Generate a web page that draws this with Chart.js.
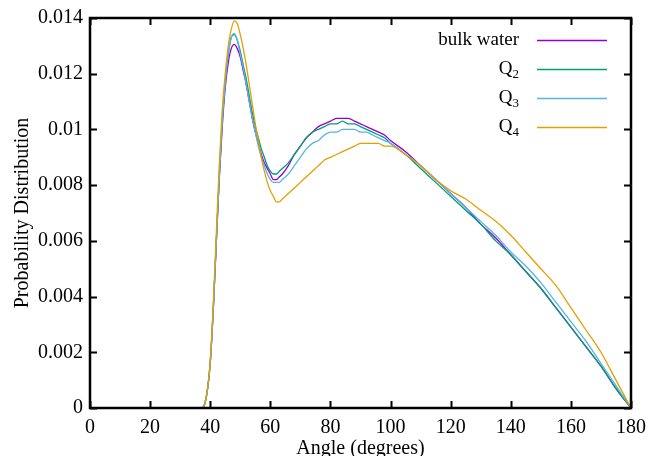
<!DOCTYPE html>
<html>
<head>
<meta charset="utf-8">
<script src="https://cdn.jsdelivr.net/npm/chart.js@4.4.1/dist/chart.umd.min.js"></script>
<style>
html, body { margin: 0; padding: 0; background: #fff; }
</style>
</head>
<body>
<canvas id="myChart" width="649" height="456"></canvas>
<script>
const angles = [36, 37, 38, 39, 40, 41, 42, 43, 44, 45, 46, 47, 48, 49, 50, 51, 52, 53, 54, 55, 56, 57, 58, 59, 60, 61, 62, 63, 64,
  66, 68, 70, 72, 74, 76, 78, 80, 82, 84, 86, 88, 90, 92, 94, 96, 98, 100,
  105, 110, 115, 120, 125, 130, 135, 140, 145, 150, 155, 160, 165, 170, 175, 180];

const bulkWater = [0, 0, 0.0001, 0.0006, 0.0016, 0.0035, 0.0059, 0.0082, 0.0101, 0.0115, 0.0124, 0.0129, 0.01305, 0.0129, 0.0126, 0.0121, 0.0116, 0.0110, 0.0104, 0.0099, 0.0095, 0.0091, 0.0088, 0.0086, 0.0084, 0.0082, 0.0082, 0.0083, 0.0084,
  0.0087, 0.0091, 0.0094, 0.0097, 0.0099, 0.0101, 0.0102, 0.0103, 0.0104, 0.0104, 0.0104, 0.0103, 0.0102, 0.0101, 0.0100, 0.0099, 0.0098, 0.0096,
  0.0092, 0.0087, 0.0082, 0.0077, 0.0072, 0.0066, 0.0061, 0.0055, 0.0049, 0.0043, 0.0036, 0.0029, 0.0022, 0.0015, 0.0007, 0];

const q2 = [0, 0, 0.0001, 0.0006, 0.0016, 0.0035, 0.0059, 0.0083, 0.0103, 0.0117, 0.0127, 0.0133, 0.0134, 0.0132, 0.0128, 0.0123, 0.0118, 0.0112, 0.0106, 0.0101, 0.0097, 0.0093, 0.0090, 0.0087, 0.0085, 0.0084, 0.0084, 0.0085, 0.0086,
  0.0088, 0.0091, 0.0094, 0.0097, 0.0099, 0.0100, 0.0101, 0.0102, 0.0102, 0.0103, 0.0102, 0.0102, 0.0101, 0.0100, 0.0099, 0.0098, 0.0097, 0.0095,
  0.0091, 0.0086, 0.0081, 0.0076, 0.0071, 0.0066, 0.0060, 0.0055, 0.0049, 0.0043, 0.0036, 0.0029, 0.0022, 0.0015, 0.0007, 0];

const q3 = [0, 0, 0.0001, 0.0006, 0.0016, 0.0035, 0.0059, 0.0083, 0.0103, 0.0117, 0.0127, 0.0133, 0.01345, 0.0132, 0.0127, 0.0122, 0.0116, 0.0110, 0.0104, 0.0099, 0.0094, 0.0090, 0.0087, 0.0084, 0.0082, 0.0081, 0.0081, 0.0081, 0.0082,
  0.0084, 0.0087, 0.0090, 0.0093, 0.0095, 0.0096, 0.0098, 0.0099, 0.0099, 0.0100, 0.0100, 0.0100, 0.0099, 0.0099, 0.0098, 0.0097, 0.0096, 0.0095,
  0.0091, 0.0087, 0.0082, 0.0077, 0.0072, 0.0067, 0.0062, 0.0056, 0.0051, 0.0045, 0.0038, 0.0031, 0.0024, 0.0016, 0.0008, 0];

const q4 = [0, 0, 0.0001, 0.0006, 0.0017, 0.0037, 0.0062, 0.0087, 0.0107, 0.0120, 0.0130, 0.0136, 0.0139, 0.0138, 0.0134, 0.0129, 0.0123, 0.0116, 0.0109, 0.0102, 0.0096, 0.0090, 0.0085, 0.0081, 0.0078, 0.0076, 0.0074, 0.0074, 0.0075,
  0.0077, 0.0079, 0.0081, 0.0083, 0.0085, 0.0087, 0.0089, 0.0090, 0.0091, 0.0092, 0.0093, 0.0094, 0.0095, 0.0095, 0.0095, 0.0095, 0.0094, 0.0094,
  0.0091, 0.0087, 0.0082, 0.0078, 0.0075, 0.0071, 0.0067, 0.0062, 0.0056, 0.0050, 0.0044, 0.0036, 0.0028, 0.0020, 0.0010, 0];

const seriesNames = ['bulk water', 'Q_2', 'Q_3', 'Q_4'];
const seriesColors = ['#9400d3', '#009e73', '#56b4e9', '#e69f00'];
const xTicks = [0, 20, 40, 60, 80, 100, 120, 140, 160, 180];
const yTicks = [0, 0.002, 0.004, 0.006, 0.008, 0.01, 0.012, 0.014];

const FONT = "'Liberation Serif', 'Times New Roman', serif";
Chart.defaults.font.family = FONT;
Chart.defaults.color = '#000';

function points(vals) {
  return angles.map((a, i) => ({ x: a, y: vals[i] }));
}

// draws the thick border, the inward ticks (all 4 sides) and the gnuplot-like key
const framePlugin = {
  id: 'frame',
  afterDatasetsDraw(chart) {
    const c = chart.ctx;
    const a = chart.chartArea;
    const xs = chart.scales.x, ys = chart.scales.y;
    const tl = 7;
    c.save();
    c.strokeStyle = '#000';
    c.lineWidth = 2;
    c.beginPath();
    xTicks.forEach(v => {
      const px = Math.round(xs.getPixelForValue(v)) + 0.5;
      c.moveTo(px, a.bottom); c.lineTo(px, a.bottom - tl);
      c.moveTo(px, a.top); c.lineTo(px, a.top + tl);
    });
    yTicks.forEach(v => {
      const py = Math.round(ys.getPixelForValue(v)) + 0.5;
      c.moveTo(a.left, py); c.lineTo(a.left + tl, py);
      c.moveTo(a.right, py); c.lineTo(a.right - tl, py);
    });
    c.stroke();
    c.lineWidth = 2.5;
    c.strokeRect(a.left, a.top, a.right - a.left, a.bottom - a.top);

    // key
    const textRight = 519, lineL = 537, lineR = 607;
    chart.data.datasets.forEach((ds, i) => {
      const y = 40 + i * 28.9;
      const parts = ds.label.split('_');
      c.fillStyle = '#000';
      c.textBaseline = 'middle';
      c.textAlign = 'right';
      let right = textRight;
      if (parts.length > 1) {
        c.font = '13px ' + FONT;
        c.fillText(parts[1], right, y + 6);
        right -= c.measureText(parts[1]).width;
      }
      c.font = '19px ' + FONT;
      c.fillText(parts[0], right, y);
      c.strokeStyle = ds.borderColor;
      c.lineWidth = 1.5;
      c.beginPath();
      c.moveTo(lineL, Math.round(y) + 0.5);
      c.lineTo(lineR, Math.round(y) + 0.5);
      c.stroke();
    });
    c.restore();
  }
};

const datasets = [bulkWater, q2, q3, q4].map((vals, i) => ({
  label: seriesNames[i],
  data: points(vals),
  borderColor: seriesColors[i],
  borderWidth: 1.3,
  pointRadius: 0,
  fill: false,
  cubicInterpolationMode: 'monotone',
  order: 3 - i
}));

const ctx = document.getElementById('myChart').getContext('2d');
const myChart = new Chart(ctx, {
  type: 'line',
  data: { datasets: datasets },
  options: {
    responsive: false,
    animation: false,
    devicePixelRatio: 1,
    layout: { padding: { top: 18, right: 18, left: 0, bottom: 0 } },
    plugins: { legend: { display: false }, tooltip: { enabled: false } },
    scales: {
      x: {
        type: 'linear',
        min: 0, max: 180,
        grid: { display: false },
        border: { display: false },
        afterBuildTicks: s => { s.ticks = xTicks.map(v => ({ value: v })); },
        afterFit: s => { s.height = 48; },
        ticks: { color: '#000', font: { family: FONT, size: 20 }, padding: 0, maxRotation: 0 },
        title: { display: true, text: 'Angle (degrees)', color: '#000', font: { family: FONT, size: 20 }, padding: { top: 0, bottom: -5 } }
      },
      y: {
        type: 'linear',
        min: 0, max: 0.014,
        grid: { display: false },
        border: { display: false },
        afterBuildTicks: s => { s.ticks = yTicks.map(v => ({ value: v })); },
        afterFit: s => { s.width = 90; },
        ticks: {
          color: '#000', font: { family: FONT, size: 20 }, padding: -1,
          callback: v => String(Number(v.toFixed(3)))
        },
        title: { display: true, text: 'Probability Distribution', color: '#000', font: { family: FONT, size: 20 }, padding: { top: 11, bottom: 0 } }
      }
    }
  },
  plugins: [framePlugin]
});
</script>
</body>
</html>
